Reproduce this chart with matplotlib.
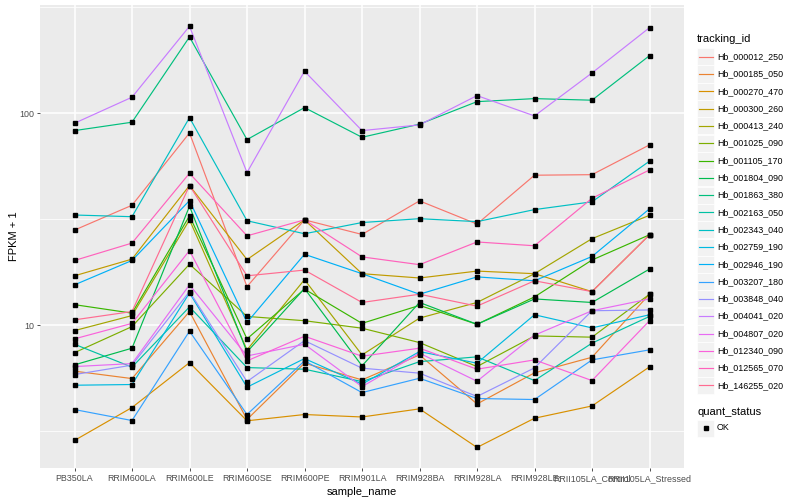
import matplotlib
matplotlib.use("Agg")
import matplotlib.pyplot as plt
from matplotlib.patches import Rectangle

plt.rcParams['font.family'] = ['Liberation Sans', 'DejaVu Sans']

samples = ['PB350LA', 'RRIM600LA', 'RRIM600LE', 'RRIM600SE', 'RRIM600PE',
           'RRIM901LA', 'RRIM928BA', 'RRIM928LA', 'RRIM928LE',
           'RRII105LA_Control', 'RRII105LA_Stressed']

# FPKM + 1 per gene
hb_000012_250 = [28.1, 36.8, 80.7, 15.2, 31.4, 26.8, 38.6, 30.0, 51.0, 51.3, 70.9]
hb_000185_050 = [6.07, 5.60, 11.6, 3.59, 6.62, 5.52, 7.24, 4.25, 5.96, 7.06, 14.0]
hb_000270_470 = [2.86, 4.09, 6.66, 3.54, 3.79, 3.69, 4.03, 2.65, 3.64, 4.16, 6.36]
hb_000300_260 = [17.1, 20.5, 45.6, 20.4, 31.4, 17.5, 16.7, 18.0, 17.5, 14.4, 26.7]
hb_000413_240 = [9.43, 11.1, 31.4, 7.65, 16.4, 7.24, 10.8, 12.8, 17.5, 25.6, 33.0]
hb_001025_090 = [7.42, 9.85, 19.4, 11.0, 10.5, 9.68, 8.28, 6.38, 8.90, 8.78, 14.0]
hb_001105_170 = [12.5, 11.4, 32.8, 8.62, 14.8, 10.2, 12.4, 10.1, 13.6, 20.3, 26.7]
hb_001804_090 = [6.50, 7.79, 36.4, 7.48, 14.9, 6.43, 12.8, 10.1, 13.3, 12.8, 18.4]
hb_001863_380 = [82.8, 90.7, 229.0, 75.1, 106.3, 77.0, 88.8, 113.4, 117.2, 115.2, 186.9]
hb_002163_050 = [8.13, 6.34, 12.2, 6.31, 6.20, 5.42, 6.73, 7.09, 5.48, 8.23, 11.0]
hb_002343_040 = [33.1, 32.5, 95.3, 31.1, 27.0, 30.5, 31.8, 30.8, 35.1, 38.2, 59.4]
hb_002759_190 = [5.21, 5.25, 14.2, 5.10, 6.96, 5.27, 7.51, 6.62, 11.2, 9.71, 11.2]
hb_002946_190 = [15.5, 20.2, 38.7, 10.3, 21.6, 17.5, 14.0, 16.9, 16.2, 21.1, 35.4]
hb_003207_180 = [4.00, 3.55, 9.37, 3.79, 6.79, 4.81, 5.62, 4.51, 4.46, 6.86, 7.65]
hb_003848_040 = [5.85, 6.48, 14.4, 5.42, 8.46, 6.27, 5.94, 4.61, 6.29, 11.7, 11.8]
hb_004041_020 = [89.7, 119.0, 257.2, 52.5, 157.8, 82.8, 88.1, 121.1, 97.1, 154.9, 253.3]
hb_004807_020 = [6.38, 6.59, 15.5, 7.16, 8.13, 5.13, 7.38, 5.44, 8.97, 11.7, 13.3]
hb_012340_090 = [8.62, 10.2, 22.5, 6.79, 8.87, 7.14, 7.79, 6.20, 6.86, 5.48, 10.5]
hb_012565_070 = [20.2, 24.4, 52.1, 26.4, 31.4, 21.0, 19.3, 24.7, 23.7, 39.7, 54.0]
hb_146255_020 = [10.6, 11.6, 45.6, 17.1, 18.2, 12.8, 14.0, 12.3, 16.2, 14.4, 26.7]

tracking_ids = ['Hb_000012_250', 'Hb_000185_050', 'Hb_000270_470', 'Hb_000300_260',
                'Hb_000413_240', 'Hb_001025_090', 'Hb_001105_170', 'Hb_001804_090',
                'Hb_001863_380', 'Hb_002163_050', 'Hb_002343_040', 'Hb_002759_190',
                'Hb_002946_190', 'Hb_003207_180', 'Hb_003848_040', 'Hb_004041_020',
                'Hb_004807_020', 'Hb_012340_090', 'Hb_012565_070', 'Hb_146255_020']

series = [hb_000012_250, hb_000185_050, hb_000270_470, hb_000300_260,
          hb_000413_240, hb_001025_090, hb_001105_170, hb_001804_090,
          hb_001863_380, hb_002163_050, hb_002343_040, hb_002759_190,
          hb_002946_190, hb_003207_180, hb_003848_040, hb_004041_020,
          hb_004807_020, hb_012340_090, hb_012565_070, hb_146255_020]

# ggplot hue palette, 20 levels
colors = ['#F8766D', '#EA8331', '#D89000', '#C09B00', '#A3A500', '#7CAE00',
          '#39B600', '#00BB4E', '#00BF7D', '#00C1A3', '#00BFC4', '#00BAE0',
          '#00B0F6', '#35A2FF', '#9590FF', '#C77CFF', '#E76BF3', '#FA62DB',
          '#FF62BC', '#FF6C91']

W, H = 800, 500
fig = plt.figure(figsize=(8, 5), dpi=100)
ax = fig.add_axes([40 / W, 1 - 468 / H, (684 - 40) / W, (468 - 5) / H])
ax.set_facecolor('#EBEBEB')

x = list(range(len(samples)))
for vals, c in zip(series, colors):
    ax.plot(x, vals, color=c, lw=0.85, zorder=3)
for vals in series:
    ax.plot(x, vals, ls='none', marker='s', ms=2.2, color='black', zorder=4)

ax.set_yscale('log')
ax.set_ylim(2.12, 324)
ax.set_xlim(-0.6, len(samples) - 0.4)
ax.set_yticks([10, 100])
ax.set_yticklabels(['10', '100'])
ax.set_yticks([10 ** 0.5, 10 ** 1.5, 10 ** 2.5], minor=True)
ax.set_yticklabels([], minor=True)
ax.set_xticks(x)
ax.set_xticklabels(samples)

ax.grid(True, which='major', color='white', lw=1.1, zorder=0)
ax.grid(True, which='minor', axis='y', color='white', lw=0.55, zorder=0)
ax.set_axisbelow(True)
for s in ax.spines.values():
    s.set_visible(False)
ax.tick_params(which='major', length=2.2, width=0.6, color='#333333',
               labelsize=6.4, labelcolor='#4D4D4D', pad=2)
ax.tick_params(which='minor', length=0)

ax.set_xlabel('sample_name', fontsize=8, labelpad=3)
ax.set_ylabel('FPKM + 1', fontsize=8, labelpad=0)

# legend drawn by hand, ggplot style
def px(xp, yp):
    return xp / W, 1 - yp / H

fig.text(*px(697, 39), 'tracking_id', fontsize=8, va='center', ha='left')
for i, (name, c) in enumerate(zip(tracking_ids, colors)):
    yc = 56.7 + i * 17.3
    fig.patches.append(Rectangle(px(697, yc + 8.5), 17 / W, 17 / H,
                                 transform=fig.transFigure, facecolor='#F2F2F2',
                                 edgecolor='white', lw=0.5))
    fig.lines.append(plt.Line2D([699 / W, 713 / W], [1 - yc / H] * 2,
                                transform=fig.transFigure, color=c, lw=0.85))
    fig.text(*px(717, yc), name, fontsize=6.4, va='center', ha='left')

fig.text(*px(697, 412), 'quant_status', fontsize=8, va='center', ha='left')
fig.patches.append(Rectangle(px(697, 428 + 8.5), 17 / W, 17 / H,
                             transform=fig.transFigure, facecolor='#F2F2F2',
                             edgecolor='white', lw=0.5))
fig.lines.append(plt.Line2D([705.5 / W], [1 - 428 / H], transform=fig.transFigure,
                            ls='none', marker='s', ms=2.2, color='black'))
fig.text(*px(717, 428), 'OK', fontsize=6.4, va='center', ha='left')

fig.savefig('out.png', dpi=100)
